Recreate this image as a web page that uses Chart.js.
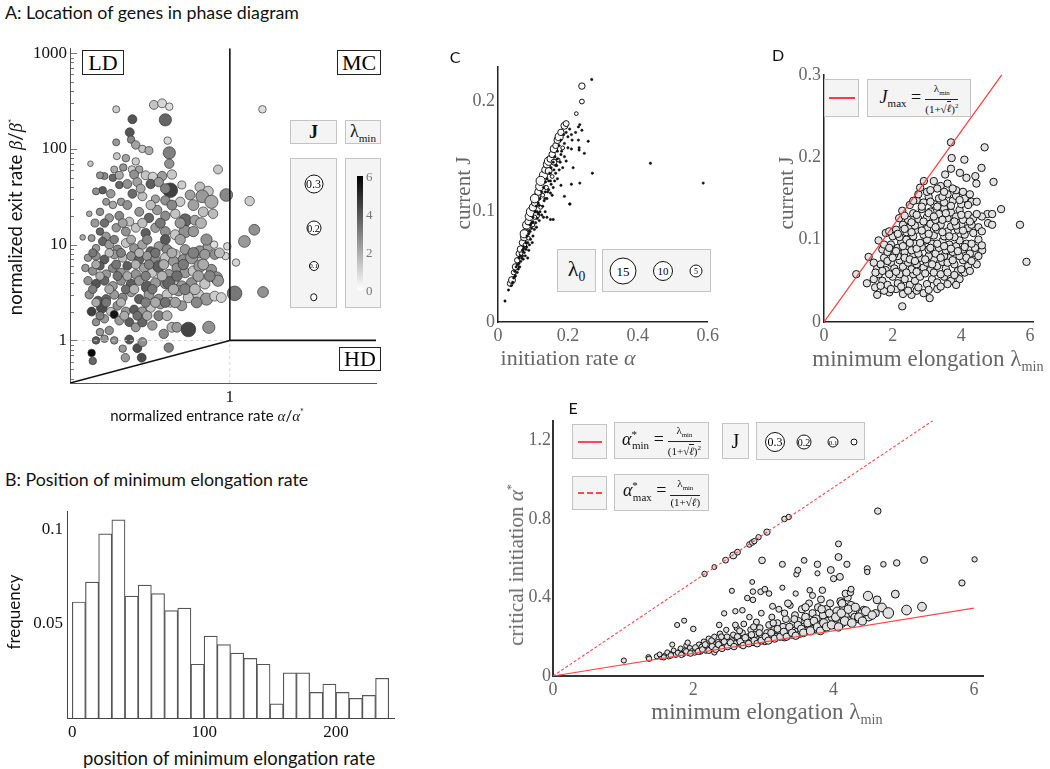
<!DOCTYPE html>
<html>
<head>
<meta charset="utf-8">
<title>Location of genes in phase diagram</title>
<script src="https://cdn.jsdelivr.net/npm/chart.js@4.4.1/dist/chart.umd.min.js"></script>
<style>
  body { margin: 0; background: #fff; }
  #fig { position: relative; width: 1050px; height: 769px; overflow: hidden; }
  #fig canvas { position: absolute; z-index: 1; }
  .t { position: absolute; white-space: nowrap; line-height: 1; z-index: 2; }
  .sans { font-family: Lato, "Open Sans", sans-serif; font-size: 16px; color: #111; }
  .glab { font-family: "Liberation Serif", "DejaVu Serif", serif; font-size: 22px; color: #666; }
  .c { transform: translate(-50%, -50%); }
  .r { transform: translate(-50%, -50%) rotate(-90deg); }
  .box { position: absolute; z-index: 2; box-sizing: border-box; background: #f4f4f4; border: 1.5px solid #c4c4c4;
         display: flex; align-items: center; justify-content: center; font-family: "Liberation Serif", serif; color: #111; white-space: nowrap; }
  .wbox { position: absolute; z-index: 2; box-sizing: border-box; background: #fff; border: 1px solid #222;
          display: flex; align-items: center; justify-content: center; font-family: "Liberation Serif", serif; font-size: 22px; }
  .circ { position: absolute; z-index: 3; box-sizing: border-box; border: 1.5px solid #111; border-radius: 50%; background: #fff;
          display: flex; align-items: center; justify-content: center; font-family: "Liberation Serif", serif; transform: translate(-50%, -50%); }
  .frac { display: inline-flex; flex-direction: column; vertical-align: middle; text-align: center; font-size: 11px; line-height: 12px; margin-left: 4px; }
  .frac .n { border-bottom: 1px solid #222; padding: 0 2px; }
  .rad { border-top: 1px solid #222; }
</style>
</head>
<body>
<div id="fig"></div>
<script>
// ---- A: genes in the phase diagram  [alpha/alpha*, beta/beta*, J, lambda_min]
const phasePoints = [
  [0.065,259,0.04,1.2],[0.161,288,0.08,1.4],[0.196,299,0.08,1.0],[0.233,276,0.05,0.8],[0.096,204,0.08,4.0],[0.212,201,0.15,3.6],
  [0.090,149,0.08,4.0],[0.065,117,0.04,2.4],[0.093,125,0.05,2.8],[0.104,110,0.07,2.2],[0.122,100,0.05,1.4],[0.143,96,0.06,2.0],
  [0.224,122,0.05,0.9],[0.233,91,0.15,3.0],[0.066,84,0.04,1.3],[0.082,80,0.05,2.2],[0.104,74,0.05,1.2],
  [0.035,70,0.01,1.4],[0.233,70,0.09,2.6],[0.062,61,0.04,2.0],[0.077,64,0.05,2.5],[0.095,61,0.05,1.2],[0.113,61,0.05,2.2],
  [0.100,54,0.08,2.6],[0.132,53,0.08,1.4],[0.157,51,0.09,1.1],[0.196,52,0.09,2.3],[0.248,54,0.09,1.3],[0.752,61,0.08,1.3],
  [0.049,52,0.04,2.8],[0.060,50,0.05,3.5],[0.044,53,0.04,2.5],
  [0.047,37,0.05,3.8],[0.040,36,0.04,2.6],[0.057,34,0.07,2.4],[0.070,42,0.05,3.6],[0.085,43,0.08,2.6],[0.108,45,0.08,2.2],
  [0.149,43,0.09,3.8],[0.181,45,0.09,2.4],[0.239,37,0.2,4.5],[0.315,42,0.06,1.2],[0.384,33,0.1,2.2],[0.487,40,0.1,1.5],
  [0.593,36,0.11,1.4],[0.514,32,0.16,2.4],[0.642,28,0.17,2.0],[0.303,28,0.09,1.3],[0.212,29,0.09,2.6],[0.167,30,0.06,2.2],
  [0.122,32,0.08,1.5],[0.096,34,0.08,3.5],[0.073,28,0.05,2.4],[0.060,26,0.05,2.0],[0.917,33,0.16,2.8],[1.61,28.5,0.09,1.2],
  [0.051,28,0.04,2.4],
  [0.034,21,0.01,2.0],[0.044,22,0.05,2.6],[0.055,19,0.07,2.4],[0.070,20,0.08,2.8],[0.089,17.4,0.08,1.5],[0.113,22,0.08,2.5],
  [0.143,19,0.09,3.6],[0.174,23,0.09,2.4],[0.212,20,0.09,2.7],[0.269,21,0.09,1.4],[0.341,18,0.16,3.6],[0.432,18,0.1,2.2],
  [0.527,22,0.1,1.5],[0.668,21,0.09,1.6],[0.065,15,0.07,2.4],[0.082,13.7,0.08,2.6],[0.104,15,0.08,1.4],[0.132,13.2,0.09,3.8],
  [0.167,15,0.09,2.3],[0.212,13.7,0.1,2.6],[0.269,12.7,0.1,1.3],[0.341,13.7,0.15,2.6],[0.416,13.7,0.11,2.4],[0.029,11.9,0.01,2.0],
  [0.036,11.7,0.04,2.4],[0.044,13.7,0.05,3.6],[0.051,12.2,0.07,2.4],
  [0.040,9.2,0.05,2.4],[0.047,10.8,0.07,3.6],[0.055,10,0.08,2.4],[0.067,8.9,0.08,2.8],[0.082,10.4,0.08,1.4],[0.100,9.2,0.08,2.5],
  [0.122,10,0.09,2.2],[0.149,8.5,0.09,3.7],[0.181,9.6,0.09,2.4],[0.221,8.9,0.1,2.7],[0.269,7.9,0.1,1.4],[0.341,8.9,0.1,2.4],
  [0.487,8.4,0.15,2.6],[0.593,9.6,0.1,2.2],[0.684,10,0.05,0.8],[0.94,9.6,0.05,1.0],[1.42,10.8,0.14,2.4],[1.80,14.3,0.12,2.6],
  [0.033,7.3,0.05,2.4],[0.040,7.6,0.07,2.6],[0.049,7.0,0.08,3.8],[0.062,7.9,0.08,2.4],[0.076,7.3,0.08,1.5],[0.093,7.6,0.08,2.6],
  [0.113,7.0,0.09,3.7],[0.137,7.6,0.09,2.4],[0.167,7.0,0.09,2.7],[0.212,7.3,0.1,1.4],[0.258,6.7,0.1,2.4],[0.327,7.0,0.1,2.6],
  [0.399,7.3,0.15,2.4],[0.548,7.9,0.11,2.4],[0.695,7.9,0.1,2.6],[0.902,7.6,0.05,1.0],[1.16,6.5,0.05,1.0],
  [0.031,5.7,0.05,2.4],[0.037,5.3,0.07,2.6],[0.044,6.0,0.07,3.8],[0.051,4.9,0.08,2.4],[0.060,5.7,0.08,2.8],[0.073,5.1,0.08,2.4],
  [0.085,6.0,0.08,3.8],[0.104,4.9,0.09,2.5],[0.127,5.7,0.09,2.2],[0.155,5.1,0.09,1.4],[0.181,5.9,0.14,3.8],[0.230,4.9,0.1,2.4],
  [0.280,5.7,0.1,2.6],[0.341,5.1,0.11,2.4],[0.416,5.3,0.11,1.4],[0.487,6.0,0.15,2.4],[0.642,5.5,0.11,2.6],[0.723,4.5,0.15,2.5],
  [0.033,4.2,0.07,2.6],[0.040,3.9,0.08,4.0],[0.049,4.2,0.08,3.6],[0.060,3.7,0.08,2.4],[0.073,4.2,0.08,2.6],[0.093,3.9,0.09,3.8],
  [0.113,4.2,0.09,2.4],[0.137,3.6,0.14,3.8],[0.167,4.0,0.1,2.4],[0.212,3.9,0.1,2.6],[0.258,4.2,0.1,1.4],[0.315,3.7,0.11,2.4],
  [0.399,4.0,0.11,2.6],[0.548,3.9,0.11,1.4],[0.752,4.2,0.13,2.4],[0.230,4.0,0.15,3.6],
  [0.034,3.0,0.07,2.6],[0.042,2.6,0.08,3.8],[0.051,2.7,0.08,3.6],[0.062,3.0,0.08,2.4],[0.076,2.8,0.08,2.8],[0.093,3.2,0.09,2.4],
  [0.113,2.7,0.09,3.8],[0.143,3.0,0.1,2.4],[0.181,2.7,0.1,2.6],[0.221,3.0,0.1,1.4],[0.291,3.3,0.11,2.4],[0.369,2.8,0.11,1.4],
  [0.468,3.0,0.12,1.3],[0.570,2.7,0.15,2.4],[0.695,2.9,0.1,1.2],[0.814,2.8,0.1,1.1],[1.12,3.1,0.2,3.2],[2.22,3.2,0.12,2.6],
  [0.036,2.0,0.08,4.5],[0.046,2.2,0.12,4.2],[0.057,2.0,0.07,1.4],[0.067,2.3,0.08,2.6],[0.082,2.0,0.08,2.4],[0.100,2.1,0.08,3.8],
  [0.122,2.0,0.09,2.4],[0.149,2.2,0.09,1.4],[0.188,2.4,0.1,2.4],[0.239,2.5,0.1,1.2],[0.315,2.3,0.1,2.4],[0.062,1.86,0.06,5.6],
  [0.040,1.55,0.05,2.6],[0.049,1.68,0.07,2.4],[0.070,1.61,0.08,2.4],[0.089,1.55,0.08,3.8],[0.104,1.37,0.08,2.4],[0.122,1.55,0.09,3.6],
  [0.155,1.43,0.09,2.4],[0.204,1.17,0.09,2.8],[0.248,1.37,0.1,1.8],[0.280,1.37,0.1,2.4],[0.369,1.30,0.2,4.4],[0.603,1.37,0.15,2.6],
  [0.044,1.22,0.05,2.4],[0.055,1.27,0.07,2.6],
  [0.040,1.0,0.05,3.8],[0.049,1.04,0.05,2.4],[0.062,1.0,0.05,2.6],[0.089,1.02,0.08,4.0],[0.108,0.83,0.08,4.2],[0.122,0.96,0.08,2.6],
  [0.230,0.84,0.09,3.0],[0.081,0.66,0.07,2.4],[0.120,0.66,0.08,4.2],[0.036,0.74,0.05,6.0],[0.037,0.61,0.05,3.6],[0.076,0.82,0.05,2.4],
  [2.19,259,0.05,0.8],
  [0.085,25.9,0.08,2.6],[0.149,25.9,0.09,1.6],[0.248,25.9,0.1,2.8],[0.416,25.9,0.12,2.2],
  [0.039,16.8,0.06,2.4],[0.049,16.8,0.07,3.4],[0.076,16.8,0.08,2.2],[0.122,16.8,0.09,1.5],[0.188,16.8,0.1,3.2],[0.303,16.8,0.11,2.4],[0.5,16.8,0.12,1.8],
  [0.062,11.3,0.07,3.0],[0.093,11.3,0.08,2.0],[0.137,11.3,0.09,2.8],[0.212,11.3,0.1,3.9],[0.303,11.3,0.11,2.2],[0.57,11.3,0.13,2.6],
  [0.037,8.2,0.06,3.2],[0.055,8.2,0.07,1.6],[0.073,8.2,0.08,3.0],[0.113,8.2,0.08,1.8],[0.167,8.2,0.09,3.3],[0.248,8.2,0.1,2.0],[0.416,8.2,0.12,3.0],[0.78,8.2,0.1,1.6],
  [0.040,6.2,0.07,2.0],[0.065,6.2,0.08,3.2],[0.104,6.2,0.08,1.8],[0.143,6.2,0.09,2.9],[0.204,6.2,0.1,1.9],[0.327,6.2,0.11,3.1],[0.527,6.2,0.12,2.0],
  [0.044,4.7,0.07,1.9],[0.067,4.7,0.08,3.3],[0.085,4.7,0.08,2.0],[0.132,4.7,0.09,3.0],[0.196,4.7,0.1,1.8],[0.28,4.7,0.11,3.4],[0.468,4.7,0.12,2.2],[0.617,4.7,0.12,2.9],
  [0.037,3.42,0.07,3.0],[0.055,3.42,0.08,2.0],[0.082,3.42,0.08,3.4],[0.1,3.42,0.09,1.8],[0.155,3.42,0.09,3.2],[0.258,3.42,0.11,2.0],[0.341,3.42,0.12,3.0],[0.432,3.42,0.12,1.7],
  [0.040,2.49,0.07,2.0],[0.051,2.49,0.08,3.2],[0.073,2.49,0.08,1.8],[0.132,2.49,0.09,3.0],[0.167,2.49,0.1,2.0],[0.212,2.49,0.1,3.3],[0.269,2.49,0.11,2.2],[0.45,2.49,0.12,2.8],
  [0.044,1.81,0.06,3.0],[0.079,1.81,0.08,2.0],[0.108,1.81,0.08,3.4],[0.137,1.81,0.09,2.0],[0.181,1.81,0.1,3.0],[0.221,1.81,0.1,1.8],
  [0.117,38.5,0.08,2.0],[0.212,38.5,0.1,3.0],[0.070,53,0.06,2.0]
];
const phaseXTicks = [1];
const phaseYTicks = [1, 10, 100, 1000];
const phaseJLegend = [0.3, 0.2, 0.1];
const lambdaBarTicks = [6, 4, 2, 0];

// ---- B: histogram of the position of the minimum elongation rate
const binCenters = [5,15,25,35,45,55,65,75,85,95,105,115,125,135,145,155,165,175,185,195,205,215,225,235];
const binFreq = [0.0617,0.0723,0.0979,0.1054,0.0648,0.0707,0.0662,0.0571,0.0585,0.0286,0.0436,0.0390,
                 0.0345,0.0317,0.0286,0.0075,0.0240,0.0240,0.0136,0.0180,0.0136,0.0105,0.0120,0.0211];
const histXTicks = [0, 100, 200];
const histYTicks = [0.05, 0.1];

// ---- C: current vs initiation rate  [alpha, J, lambda0]
const currentPoints = [
  [0.035,0.035,8],[0.04,0.038,10],[0.045,0.045,6],[0.05,0.05,9],[0.055,0.056,7],[0.06,0.062,8],[0.065,0.066,10],
  [0.07,0.072,9],[0.075,0.077,11],[0.078,0.082,8],[0.082,0.088,12],[0.086,0.091,9],[0.09,0.096,13],[0.095,0.1,15],
  [0.1,0.104,11],[0.105,0.108,9],[0.11,0.113,12],[0.115,0.118,10],[0.12,0.123,13],[0.125,0.128,9],[0.13,0.133,12],
  [0.135,0.138,10],[0.14,0.143,11],[0.145,0.146,13],[0.15,0.148,10],[0.155,0.152,9],[0.16,0.157,11],[0.165,0.16,8],
  [0.17,0.165,10],[0.175,0.168,12],[0.18,0.172,9],[0.19,0.178,10],[0.195,0.18,8],[0.24,0.214,9],[0.24,0.2,6],
  [0.122,0.128,14],[0.105,0.112,13],[0.075,0.08,12],[0.11,0.097,9],[0.145,0.137,10],[0.16,0.145,8],
  [0.02,0.019,3],[0.03,0.029,3],[0.038,0.033,2],[0.042,0.036,2],[0.045,0.04,3],[0.05,0.042,2],[0.048,0.046,2],
  [0.055,0.045,2],[0.052,0.05,3],[0.058,0.048,2],[0.06,0.053,2],[0.062,0.05,2],
  [0.065,0.055,2],[0.068,0.058,3],[0.07,0.06,2],[0.072,0.057,2],[0.066,0.062,4],[0.075,0.063,2],[0.078,0.06,2],
  [0.08,0.066,3],[0.077,0.07,4],[0.082,0.068,2],[0.085,0.072,2],[0.088,0.065,2],[0.09,0.07,2],[0.087,0.076,4],
  [0.093,0.075,2],[0.098,0.072,2],[0.1,0.078,2],[0.085,0.058,2],
  [0.092,0.082,3],[0.096,0.085,2],[0.1,0.088,4],[0.104,0.084,2],[0.108,0.09,2],[0.11,0.086,2],[0.105,0.095,5],
  [0.112,0.094,2],[0.115,0.098,3],[0.118,0.092,2],[0.12,0.1,2],[0.125,0.097,2],[0.13,0.095,2],[0.122,0.104,4],
  [0.128,0.105,2],[0.135,0.1,2],[0.14,0.095,2],[0.15,0.093,2],[0.132,0.11,3],
  [0.128,0.115,4],[0.135,0.118,2],[0.14,0.112,2],[0.138,0.122,5],[0.145,0.12,2],[0.15,0.117,2],[0.155,0.115,2],
  [0.145,0.128,3],[0.152,0.125,2],[0.158,0.122,2],[0.162,0.128,2],[0.155,0.132,4],[0.165,0.135,2],[0.17,0.13,2],
  [0.16,0.138,3],[0.175,0.138,2],[0.18,0.124,2],[0.19,0.114,2],[0.205,0.107,2],
  [0.168,0.142,2],[0.172,0.147,4],[0.178,0.145,2],[0.185,0.14,2],[0.18,0.152,3],[0.19,0.15,2],[0.195,0.146,2],
  [0.185,0.158,4],[0.19,0.162,2],[0.2,0.158,2],[0.21,0.157,2],[0.2,0.168,3],[0.21,0.17,2],[0.222,0.172,2],
  [0.23,0.177,2],[0.232,0.158,2],[0.23,0.165,2],[0.205,0.175,2],
  [0.268,0.22,3],[0.224,0.189,4],[0.234,0.179,2],[0.24,0.174,3],[0.258,0.164,2],[0.247,0.153,2],[0.232,0.156,2],
  [0.27,0.135,2],[0.234,0.126,2],[0.21,0.125,2],[0.206,0.107,2],[0.436,0.144,2],[0.587,0.126,2],[0.158,0.093,2],
  [0.215,0.14,2],[0.212,0.165,2],
  [0.055,0.052,2],[0.06,0.058,2],[0.064,0.06,2],[0.07,0.065,2],[0.074,0.068,2],[0.08,0.072,2],[0.083,0.078,2],
  [0.088,0.08,2],[0.092,0.088,2],[0.097,0.09,2],[0.1,0.095,2],[0.106,0.1,2],[0.11,0.105,2],[0.115,0.108,2],
  [0.12,0.112,2],[0.125,0.118,2],[0.13,0.122,2],[0.136,0.127,2],[0.14,0.13,2],[0.148,0.135,2],[0.152,0.14,2],
  [0.158,0.145,2],[0.163,0.15,2],[0.17,0.155,2],[0.175,0.16,2],[0.18,0.165,2],[0.188,0.17,2],[0.195,0.172,2],
  [0.112,0.1,2],[0.118,0.106,2],[0.134,0.112,2],[0.142,0.118,2],[0.15,0.128,2],[0.165,0.142,2],[0.17,0.148,2],
  [0.182,0.155,2],[0.048,0.041,2],[0.072,0.066,2],[0.09,0.083,2],[0.1,0.091,2]
];
const currentXTicks = [0, 0.2, 0.4, 0.6];
const currentYTicks = [0, 0.1, 0.2];
const lambda0Legend = [15, 10, 5];

// ---- D: current vs minimum elongation  [lambda_min, J]
const elongPoints = [
  [2.28,0.019],[1.55,0.033],[1.9,0.036],[2.3,0.034],[2.55,0.033],[2.9,0.035],[3.08,0.029],[2.1,0.04],[2.7,0.038],[3.3,0.04],[1.75,0.038],
  [1.25,0.047],[1.49,0.042],[1.45,0.052],[0.94,0.058],[1.7,0.05],[1.85,0.045],[2.0,0.055],[2.15,0.047],[2.35,0.052],[2.5,0.045],
  [2.65,0.05],[2.8,0.055],[3.0,0.046],[3.15,0.052],[3.3,0.048],[3.5,0.055],[3.7,0.05],[3.95,0.052],[4.1,0.06],[2.2,0.058],[2.6,0.058],[1.6,0.058],
  [1.3,0.079],[1.55,0.065],[1.65,0.07],[1.8,0.063],[1.95,0.072],[2.05,0.065],[2.2,0.075],[2.3,0.067],[2.45,0.072],[2.55,0.064],
  [2.7,0.07],[2.8,0.078],[2.9,0.066],[3.0,0.072],[3.1,0.063],[3.2,0.076],[3.3,0.068],[3.45,0.073],[3.55,0.065],[3.65,0.078],
  [3.8,0.07],[3.9,0.062],[4.05,0.075],[4.2,0.068],[4.37,0.084],[4.61,0.087],[4.45,0.07],[1.75,0.078],[2.15,0.08],[2.6,0.08],[3.05,0.08],[3.5,0.08],
  [1.59,0.099],[1.7,0.088],[1.85,0.085],[1.95,0.094],[2.05,0.082],[2.15,0.09],[2.25,0.097],[2.35,0.085],[2.45,0.092],[2.55,0.087],
  [2.65,0.095],[2.75,0.083],[2.85,0.091],[2.95,0.099],[3.05,0.088],[3.15,0.095],[3.25,0.083],[3.35,0.09],[3.45,0.098],[3.55,0.087],
  [3.65,0.094],[3.75,0.085],[3.85,0.092],[3.95,0.099],[4.05,0.088],[4.15,0.095],[4.25,0.083],[4.4,0.09],[4.5,0.1],[2.4,0.1],[3.0,0.1],
  [1.8,0.108],[2.0,0.104],[2.1,0.112],[2.2,0.103],[2.3,0.118],[2.4,0.109],[2.5,0.115],[2.6,0.104],[2.7,0.112],[2.8,0.118],
  [2.9,0.106],[3.0,0.113],[3.1,0.119],[3.2,0.105],[3.3,0.112],[3.4,0.118],[3.5,0.104],[3.6,0.11],[3.7,0.116],[3.8,0.103],
  [3.9,0.112],[4.0,0.118],[4.1,0.106],[4.2,0.114],[4.35,0.108],[4.5,0.115],[4.78,0.12],[5.71,0.118],[4.9,0.118],
  [2.19,0.126],[2.28,0.135],[2.45,0.124],[2.6,0.132],[2.75,0.125],[2.85,0.137],[3.0,0.127],[3.1,0.134],[3.25,0.124],[3.35,0.131],
  [3.5,0.138],[3.6,0.126],[3.7,0.133],[3.85,0.128],[3.95,0.136],[4.05,0.124],[4.2,0.13],[4.35,0.126],[4.76,0.131],[5.16,0.137],[4.6,0.128],[4.9,0.131],
  [2.5,0.142],[2.7,0.148],[2.9,0.145],[3.05,0.152],[3.2,0.143],[3.35,0.15],[3.5,0.145],[3.6,0.155],[3.75,0.147],[3.85,0.153],
  [4.0,0.143],[4.1,0.15],[4.3,0.146],[3.0,0.158],[2.75,0.155],
  [2.91,0.171],[3.2,0.171],[3.4,0.165],[3.53,0.179],[3.7,0.218],[3.72,0.199],[3.7,0.186],[3.96,0.181],[4.09,0.197],[4.15,0.175],
  [4.68,0.212],[4.59,0.187],[4.41,0.177],[4.44,0.168],[4.94,0.17],[3.3,0.162],[3.6,0.168],[3.85,0.16],[2.8,0.163],[5.9,0.073],
  [1.65,0.044],[1.95,0.04],[2.25,0.043],[2.45,0.038],[2.75,0.042],[3.05,0.039],[3.4,0.043],[3.6,0.046],[3.85,0.045],
  [1.5,0.06],[1.7,0.062],[1.9,0.058],[2.1,0.061],[2.4,0.06],[2.7,0.061],[2.95,0.059],[3.2,0.06],[3.4,0.058],[3.6,0.06],
  [3.8,0.057],[4.0,0.064],[4.25,0.062],
  [1.45,0.072],[1.85,0.074],[2.0,0.078],[2.35,0.078],[2.5,0.076],[2.65,0.074],[2.95,0.076],[3.15,0.07],[3.4,0.078],[3.6,0.072],
  [3.75,0.075],[3.95,0.08],[4.15,0.078],[4.3,0.074],[4.5,0.08],
  [1.75,0.094],[1.9,0.09],[2.1,0.086],[2.3,0.092],[2.5,0.096],[2.7,0.089],[2.8,0.096],[3.1,0.09],[3.3,0.095],[3.5,0.092],
  [3.7,0.089],[3.9,0.086],[4.1,0.091],[4.3,0.095],[4.6,0.093],
  [1.9,0.11],[2.15,0.107],[2.35,0.113],[2.55,0.109],[2.65,0.117],[2.85,0.111],[3.05,0.107],[3.25,0.115],[3.45,0.109],[3.65,0.104],
  [3.85,0.117],[4.05,0.111],[4.3,0.118],[4.6,0.11],
  [2.35,0.129],[2.55,0.121],[2.7,0.13],[2.9,0.122],[3.05,0.132],[3.2,0.128],[3.45,0.124],[3.55,0.132],[3.8,0.122],[4.0,0.13],
  [4.25,0.122],[4.45,0.131],
  [2.6,0.147],[2.85,0.14],[3.1,0.146],[3.3,0.14],[3.45,0.152],[3.7,0.141],[3.95,0.148],[4.2,0.142],[4.45,0.146],
  [3.1,0.16],[3.5,0.158],[3.75,0.162],[4.05,0.158],[4.25,0.155]
];
const elongXTicks = [0, 2, 4, 6];
const elongYTicks = [0, 0.1, 0.2, 0.3];
const jMaxLine = [[0, 0], [5.18, 0.3]];

// ---- E: critical initiation vs minimum elongation  [lambda_min, alpha*, J]
const criticalPoints = [
  [1.01,0.079,0.04],[1.36,0.096,0.04],[1.37,0.088,0.05],[1.48,0.1,0.04],[1.55,0.097,0.05],[1.6,0.105,0.04],[1.52,0.11,0.03],
  [1.65,0.1,0.05],[1.7,0.115,0.04],[1.72,0.13,0.03],[1.75,0.108,0.05],[1.8,0.122,0.05],[1.82,0.14,0.04],[1.85,0.112,0.06],
  [1.88,0.13,0.05],[1.9,0.155,0.04],[1.93,0.118,0.05],[1.95,0.142,0.05],[1.98,0.125,0.06],[1.77,0.26,0.04],[1.87,0.282,0.04],
  [2.0,0.24,0.06],[1.7,0.16,0.04],
  [2.02,0.12,0.06],[2.05,0.135,0.05],[2.08,0.16,0.05],[2.1,0.125,0.07],[2.12,0.148,0.06],[2.15,0.175,0.05],[2.18,0.13,0.06],
  [2.2,0.155,0.07],[2.22,0.19,0.05],[2.25,0.14,0.07],[2.28,0.165,0.06],[2.3,0.2,0.05],[2.33,0.145,0.08],[2.35,0.172,0.06],
  [2.38,0.215,0.06],[2.4,0.15,0.07],[2.42,0.185,0.08],[2.45,0.16,0.06],[2.47,0.235,0.05],[2.48,0.2,0.07],[2.37,0.26,0.06],
  [2.44,0.319,0.05],[2.55,0.434,0.04],[2.3,0.12,0.05],
  [2.52,0.155,0.08],[2.55,0.18,0.07],[2.57,0.21,0.06],[2.6,0.165,0.08],[2.62,0.245,0.06],[2.65,0.19,0.09],[2.68,0.16,0.07],
  [2.7,0.22,0.08],[2.72,0.265,0.07],[2.75,0.175,0.09],[2.78,0.2,0.08],[2.8,0.3,0.06],[2.82,0.235,0.09],[2.85,0.17,0.08],
  [2.88,0.21,0.1],[2.9,0.275,0.08],[2.92,0.185,0.09],[2.95,0.245,0.1],[2.97,0.32,0.07],[2.98,0.2,0.09],[2.77,0.397,0.06],
  [2.85,0.388,0.06],[2.85,0.43,0.06],[2.84,0.479,0.03],[2.96,0.429,0.07],[2.6,0.33,0.05],[2.7,0.335,0.06],
  [3.02,0.175,0.09],[3.05,0.22,0.1],[3.08,0.26,0.11],[3.1,0.19,0.1],[3.12,0.3,0.08],[3.15,0.235,0.12],[3.18,0.2,0.1],
  [3.2,0.27,0.11],[3.22,0.34,0.08],[3.25,0.215,0.12],[3.28,0.25,0.13],[3.3,0.195,0.1],[3.32,0.29,0.12],[3.35,0.23,0.13],
  [3.38,0.36,0.09],[3.4,0.21,0.12],[3.42,0.265,0.14],[3.45,0.31,0.12],[3.48,0.225,0.14],[3.5,0.28,0.13],[3.02,0.442,0.07],
  [3.08,0.42,0.06],[3.27,0.45,0.04],[3.46,0.42,0.05],[3.35,0.37,0.12],[3.13,0.355,0.08],
  [3.52,0.215,0.13],[3.55,0.34,0.14],[3.58,0.25,0.15],[3.6,0.3,0.16],[3.62,0.23,0.14],[3.65,0.37,0.12],[3.68,0.27,0.16],
  [3.7,0.32,0.13],[3.72,0.24,0.15],[3.75,0.29,0.17],[3.78,0.35,0.14],[3.8,0.26,0.16],[3.82,0.39,0.12],[3.85,0.31,0.15],
  [3.88,0.245,0.14],[3.9,0.34,0.16],[3.92,0.28,0.15],[3.95,0.37,0.13],[3.98,0.3,0.17],[3.66,0.437,0.06],[3.84,0.437,0.1],[3.7,0.41,0.08],
  [4.02,0.26,0.16],[4.05,0.33,0.18],[4.08,0.29,0.17],[4.1,0.38,0.15],[4.12,0.27,0.18],[4.15,0.35,0.2],[4.18,0.31,0.16],
  [4.2,0.4,0.14],[4.22,0.28,0.17],[4.25,0.36,0.16],[4.27,0.32,0.18],[4.3,0.3,0.15],[4.17,0.42,0.12],[4.24,0.425,0.1],
  [4.25,0.442,0.08],[4.43,0.336,0.15],[4.5,0.3,0.16],[4.35,0.29,0.14],[4.4,0.32,0.15],
  [4.49,0.408,0.22],[4.62,0.388,0.16],[4.69,0.349,0.2],[4.78,0.321,0.28],[5.04,0.336,0.24],[5.26,0.353,0.2],[4.88,0.417,0.16],[4.6,0.32,0.14],
  [2.16,0.52,0.05],[2.3,0.555,0.03],[2.46,0.59,0.07],[2.57,0.614,0.12],[2.63,0.631,0.07],[2.8,0.67,0.06],[2.84,0.68,0.06],
  [2.87,0.687,0.05],[2.93,0.707,0.05],[3.05,0.733,0.09],[3.3,0.8,0.06],[3.36,0.81,0.05],[2.98,0.589,0.11],[3.27,0.569,0.08],
  [3.58,0.589,0.07],[3.77,0.569,0.1],[3.96,0.54,0.12],[4.07,0.673,0.08],[4.07,0.606,0.12],[4.19,0.569,0.09],[4.09,0.505,0.12],
  [4.0,0.496,0.09],[4.48,0.547,0.08],[4.48,0.53,0.05],[4.71,0.569,0.06],[4.9,0.576,0.1],[5.29,0.591,0.12],[6.01,0.594,0.05],
  [5.83,0.474,0.09],[4.63,0.84,0.1],[3.47,0.518,0.05],[3.49,0.539,0.08],[3.77,0.523,0.04],
  [1.58,0.095,0.05],[1.63,0.12,0.04],[1.68,0.105,0.06],[1.78,0.118,0.05],[1.83,0.108,0.06],[1.9,0.125,0.06],[1.96,0.115,0.07],[1.92,0.17,0.05],
  [2.03,0.145,0.07],[2.07,0.125,0.08],[2.13,0.135,0.07],[2.17,0.16,0.08],[2.22,0.13,0.08],[2.27,0.15,0.09],[2.32,0.135,0.08],
  [2.36,0.16,0.09],[2.41,0.14,0.09],[2.44,0.175,0.08],[2.49,0.15,0.1],[2.26,0.18,0.07],[2.4,0.2,0.07],
  [2.53,0.17,0.1],[2.58,0.15,0.1],[2.63,0.2,0.09],[2.67,0.175,0.11],[2.71,0.155,0.1],[2.74,0.195,0.11],[2.79,0.165,0.11],
  [2.83,0.21,0.1],[2.87,0.18,0.12],[2.91,0.165,0.11],[2.94,0.22,0.1],[2.97,0.18,0.12],[2.66,0.23,0.08],[2.86,0.25,0.09],[2.6,0.26,0.07],
  [3.03,0.2,0.12],[3.07,0.18,0.13],[3.11,0.22,0.12],[3.16,0.19,0.13],[3.2,0.24,0.12],[3.24,0.2,0.14],[3.29,0.225,0.14],
  [3.33,0.2,0.13],[3.37,0.25,0.14],[3.41,0.22,0.15],[3.46,0.205,0.14],[3.49,0.26,0.15],[3.14,0.27,0.1],[3.3,0.32,0.1],[3.44,0.29,0.12],
  [3.54,0.24,0.15],[3.57,0.22,0.16],[3.63,0.27,0.16],[3.67,0.23,0.17],[3.72,0.28,0.16],[3.77,0.25,0.17],[3.81,0.23,0.16],
  [3.86,0.27,0.18],[3.9,0.25,0.17],[3.94,0.32,0.16],[3.97,0.26,0.18],[3.6,0.35,0.14],[3.83,0.34,0.15],
  [4.03,0.3,0.18],[4.07,0.25,0.18],[4.11,0.32,0.19],[4.16,0.28,0.2],[4.21,0.34,0.18],[4.26,0.27,0.19],[4.31,0.35,0.17],
  [4.36,0.3,0.18],[4.41,0.28,0.17],[4.46,0.33,0.2],[4.55,0.31,0.18],[4.12,0.37,0.16]
];
const criticalXTicks = [0, 2, 4, 6];
const criticalYTicks = [0, 0.4, 0.8, 1.2];
const alphaMinLine = [[0, 0], [6.0, 0.346]];
const alphaMaxLine = [[0, 0], [5.42, 1.302]];
const criticalJLegend = [0.3, 0.2, 0.1];

// ---------------------------------------------------------------
const fig = document.getElementById("fig");
const SERIF = "'Liberation Serif', 'DejaVu Serif', serif";

function makeChart(plot, pad, yw, xh, config) {
  const c = document.createElement("canvas");
  const w = plot[2] - plot[0] + yw + pad[0] + pad[2];
  const h = plot[3] - plot[1] + xh + pad[1] + pad[3];
  c.width = w; c.height = h;
  c.style.left = (plot[0] - yw - pad[0]) + "px";
  c.style.top = (plot[1] - pad[1]) + "px";
  c.style.width = w + "px"; c.style.height = h + "px";
  fig.appendChild(c);
  const o = config.options;
  o.responsive = false;
  o.animation = false;
  o.layout = { padding: { left: pad[0], top: pad[1], right: pad[2], bottom: pad[3] } };
  o.plugins = { legend: { display: false }, tooltip: { enabled: false } };
  o.scales.x.afterFit = s => { s.height = xh; };
  o.scales.y.afterFit = s => { s.width = yw; };
  return new Chart(c, config);
}

function axis(type, min, max, ticks, font, color, border, padding) {
  return {
    type: type, min: min, max: max, offset: false,
    grid: { display: false, drawTicks: false },
    border: { display: true, color: border[0], width: border[1] },
    afterBuildTicks: s => { s.ticks = ticks.map(v => ({ value: v })); },
    ticks: { font: font, color: color, padding: padding, autoSkip: false, maxRotation: 0, callback: v => String(v) }
  };
}

function lineSet(pts, color, width, dash) {
  return {
    data: pts.map(p => ({ x: p[0], y: p[1] })), showLine: true, borderColor: color, borderWidth: width,
    borderDash: dash || [], pointRadius: 0, fill: false, order: 0
  };
}

function grayOf(l) {
  const g = Math.round(255 * (1 - l / 6));
  return "rgb(" + g + "," + g + "," + g + ")";
}

// inward minor ticks on the log axis of panel A
const innerTicks = {
  id: "innerTicks",
  afterDraw(chart) {
    const ys = chart.scales.y, ctx = chart.ctx, x = chart.chartArea.left;
    ctx.save();
    ctx.strokeStyle = "#555"; ctx.lineWidth = 0.8;
    for (let k = -1; k <= 3; k++) {
      for (let m = 1; m < 10; m++) {
        const v = m * Math.pow(10, k);
        if (v < ys.min || v > ys.max) continue;
        const p = Math.round(ys.getPixelForValue(v)) + 0.5;
        ctx.beginPath(); ctx.moveTo(x, p); ctx.lineTo(x + (m === 1 ? 7 : 4), p); ctx.stroke();
      }
    }
    ctx.restore();
  }
};

// ---- A
const aX = [0.0214, 33.6], aY = [0.359, 1126];
const fontA = { family: SERIF, size: 17 };
makeChart([70, 45, 380, 383], [8, 10, 4, 4], 60, 24, {
  type: "scatter",
  data: { datasets: [
    lineSet([[1, 1], [1, aY[1]]], "#111", 1.6),
    lineSet([[1, 1], [aX[1], 1]], "#111", 1.6),
    lineSet([[aX[0], aY[0]], [1, 1]], "#111", 1.6),
    lineSet([[aX[0], 1], [1, 1]], "#c8c8c8", 0.8, [3, 3]),
    lineSet([[1, aY[0]], [1, 1]], "#c8c8c8", 0.8, [3, 3]),
    {
      data: phasePoints.map(p => ({ x: p[0], y: p[1], j: p[2], l: p[3] })),
      pointRadius: c => 2.6 + 23.5 * c.raw.j,
      pointBackgroundColor: c => grayOf(c.raw.l),
      pointBorderColor: "#333", pointBorderWidth: 0.7, order: 1
    }
  ] },
  options: { scales: {
    x: axis("logarithmic", aX[0], aX[1], phaseXTicks, fontA, "#111", ["#555", 1], 4),
    y: axis("logarithmic", aY[0], aY[1], phaseYTicks, fontA, "#111", ["#555", 1], 3)
  } },
  plugins: [innerTicks]
});

// ---- B
makeChart([67, 507, 394, 718], [6, 10, 10, 4], 50, 24, {
  type: "bar",
  data: { datasets: [{
    data: binCenters.map((c, i) => ({ x: c, y: binFreq[i] })),
    backgroundColor: "#fff", borderColor: "#555", borderWidth: 1.2,
    barPercentage: 1, categoryPercentage: 1
  }] },
  options: { scales: {
    x: axis("linear", -4, 244, histXTicks, fontA, "#111", ["#444", 1], 4),
    y: axis("linear", 0, 0.11, histYTicks, fontA, "#111", ["#444", 1], 4)
  } }
});

// ---- C
const fontG = { family: SERIF, size: 18 };
makeChart([498, 65, 708, 322], [6, 12, 14, 4], 40, 24, {
  type: "scatter",
  data: { datasets: [{
    data: currentPoints.map(p => ({ x: p[0], y: p[1], l: p[2] })),
    pointRadius: c => c.raw.l <= 3 ? 1.2 : 0.8 + 0.27 * c.raw.l,
    pointBackgroundColor: c => c.raw.l <= 3 ? "#111" : "rgba(255,255,255,0.9)",
    pointBorderColor: "#111", pointBorderWidth: c => c.raw.l <= 3 ? 0.5 : 1
  }] },
  options: { scales: {
    x: axis("linear", 0, 0.6, currentXTicks, fontG, "#666", ["#222", 1.5], 3),
    y: axis("linear", 0, 0.2315, currentYTicks, fontG, "#666", ["#222", 1.5], 3)
  } }
});

// ---- D
makeChart([824, 73, 1033, 322], [6, 12, 10, 4], 40, 24, {
  type: "scatter",
  data: { datasets: [
    lineSet(jMaxLine, "#ff3b3b", 1.2),
    {
      data: elongPoints.map(p => ({ x: p[0], y: p[1] })),
      pointRadius: 3.7, pointBackgroundColor: "#e2e2e2", pointBorderColor: "#111", pointBorderWidth: 1, order: 1
    }
  ] },
  options: { scales: {
    x: axis("linear", 0, 6.09, elongXTicks, fontG, "#666", ["#222", 1.5], 3),
    y: axis("linear", 0, 0.3, elongYTicks, fontG, "#666", ["#222", 1.5], 3)
  } }
});

// ---- E
makeChart([553, 418, 983, 676], [6, 10, 12, 4], 40, 24, {
  type: "scatter",
  data: { datasets: [
    lineSet(alphaMinLine, "#ff4a4a", 1.2),
    lineSet(alphaMaxLine, "#ff4a4a", 1.1, [3, 2]),
    {
      data: criticalPoints.map(p => ({ x: p[0], y: p[1], j: p[2] })),
      pointRadius: c => 2.1 + 11.5 * c.raw.j,
      pointBackgroundColor: "#e0e0e0", pointBorderColor: "#111", pointBorderWidth: 1, order: 1
    }
  ] },
  options: { scales: {
    x: axis("linear", 0, 6.13, criticalXTicks, fontG, "#666", ["#333", 2], 3),
    y: axis("linear", 0, 1.3, criticalYTicks, fontG, "#666", ["#333", 2], 2)
  } }
});

// ---------------------------------------------------------------
// text, boxes and legends
function put(html, x, y, cls, css) {
  const d = document.createElement("div");
  d.className = "t " + cls;
  d.innerHTML = html;
  d.style.left = x + "px"; d.style.top = y + "px";
  if (css) d.style.cssText += css;
  fig.appendChild(d);
  return d;
}
function box(x0, y0, x1, y1, cls, html, css) {
  const d = document.createElement("div");
  d.className = cls;
  d.innerHTML = "<span>" + (html || "") + "</span>";
  d.style.left = x0 + "px"; d.style.top = y0 + "px";
  d.style.width = (x1 - x0) + "px"; d.style.height = (y1 - y0) + "px";
  if (css) d.style.cssText += css;
  fig.appendChild(d);
  return d;
}
function circle(x, y, dia, label, fs) {
  const d = document.createElement("div");
  d.className = "circ";
  d.style.left = x + "px"; d.style.top = y + "px";
  d.style.width = dia + "px"; d.style.height = dia + "px";
  d.style.fontSize = fs + "px";
  d.textContent = label;
  fig.appendChild(d);
}
const gi = s => "<i style=\"font-family:" + SERIF + "\">" + s + "</i>";
const lmin = "&lambda;<sub style=\"font-size:0.62em\">min</sub>";
const frac = (n, d) => "<span class=\"frac\"><span class=\"n\">" + n + "</span><span>" + d + "</span></span>";
const denom2 = "(1+&radic;<span class=\"rad\"><i>&#8467;</i></span>)<sup style=\"font-size:7px\">2</sup>";
const denom1 = "(1+&radic;<span class=\"rad\"><i>&#8467;</i></span>)";
const starSub = s => "<sup style=\"font-size:11px\">*</sup><sub style=\"font-size:11px;margin-left:-5px\">" + s + "</sub>";

// panel A
put("A: Location of genes in phase diagram", 5, 4, "sans", "font-size:17.8px;");
put("normalized exit rate " + gi("&beta;") + "/" + gi("&beta;") + "<sup style=\"font-size:10px\">*</sup>", 16, 217, "sans r", "font-size:18.5px;");
put("normalized entrance rate " + gi("&alpha;") + "/" + gi("&alpha;") + "<sup style=\"font-size:9px\">*</sup>", 207, 415, "sans c", "font-size:15px;");
box(82, 50, 124, 75, "wbox", "LD");
box(337, 50, 381, 75, "wbox", "MC");
box(339, 347, 381, 371, "wbox", "HD");
box(290, 120, 337, 144, "box", "J", "font-size:18px;font-weight:bold;");
box(345, 120, 381, 144, "box", lmin, "font-size:18px;");
box(290, 158, 337, 308, "box", "");
box(345, 158, 381, 308, "box", "");
const aLegendY = [184, 228, 266];
phaseJLegend.forEach((j, i) => circle(313.5, aLegendY[i], Math.round(2 * (2.6 + 23.5 * j)), String(j), [12, 10, 7][i]));
circle(313.5, 297, 7.5, "", 1);
box(357, 176, 363, 290, "box", "", "background:linear-gradient(to bottom,#000,#fff);border:none;");
lambdaBarTicks.forEach((v, i) => put(String(v), 366, 176 + i * 38, "", "font-family:" + SERIF + ";font-size:13px;color:#777;transform:translateY(-50%);"));

// panel B
put("B: Position of minimum elongation rate", 5, 480, "sans", "font-size:17.8px;transform:translateY(-50%);");
put("frequency", 13, 612, "sans r", "font-size:17px;");
put("position of minimum elongation rate", 229, 758, "sans c", "font-size:18.4px;");

// panel C
put("C", 455, 57, "sans c");
put("current J", 463, 193, "glab r", "font-size:21px;");
put("initiation rate " + gi("&alpha;"), 568, 358, "glab c");
box(557, 249, 596, 292, "box", "&lambda;<sub style=\"font-size:0.62em\">0</sub>", "font-size:22px;");
box(602, 249, 711, 292, "box", "");
const cLegend = [[623, 27, 13], [663, 20, 11], [696, 13, 8]];
lambda0Legend.forEach((v, i) => circle(cLegend[i][0], 271, cLegend[i][1], String(v), cLegend[i][2]));

// panel D
put("D", 778, 55, "sans c");
put("current J", 786, 193, "glab r", "font-size:21px;");
put("minimum elongation " + lmin, 928, 360, "glab c", "font-size:23px;");
box(824, 79, 859, 117, "box", "<span style=\"display:block;width:26px;height:2px;background:#ff3b3b\"></span>");
box(867, 79, 971, 117, "box", gi("J") + "<sub style=\"font-size:11px\">max</sub>&nbsp;=" + frac(lmin, denom2), "font-size:18px;");

// panel E
put("E", 573, 408, "sans c");
put("critical initiation " + gi("&alpha;") + "<sup style=\"font-size:12px\">*</sup>", 516, 565, "glab r", "font-size:21px;");
put("minimum elongation " + lmin, 767, 713, "glab c", "font-size:23px;");
box(572, 424, 607, 459, "box", "<span style=\"display:block;width:24px;height:2px;background:#ff4a4a\"></span>");
box(614, 422, 709, 459, "box", gi("&alpha;") + starSub("min") + "&nbsp;=" + frac(lmin, denom2), "font-size:18px;");
box(572, 476, 607, 510, "box", "<span style=\"display:block;width:24px;height:0;border-top:2px dashed #ff4a4a\"></span>");
box(614, 474, 709, 511, "box", gi("&alpha;") + starSub("max") + "&nbsp;=" + frac(lmin, denom1), "font-size:18px;");
box(722, 423, 749, 459, "box", "J", "font-size:20px;");
box(756, 422, 865, 460, "box", "");
const eLegend = [[775, 20, 12], [804, 15, 10], [833, 11, 7]];
criticalJLegend.forEach((v, i) => circle(eLegend[i][0], 442, eLegend[i][1], String(v), eLegend[i][2]));
circle(854, 442, 7, "", 1);
</script>
</body>
</html>
